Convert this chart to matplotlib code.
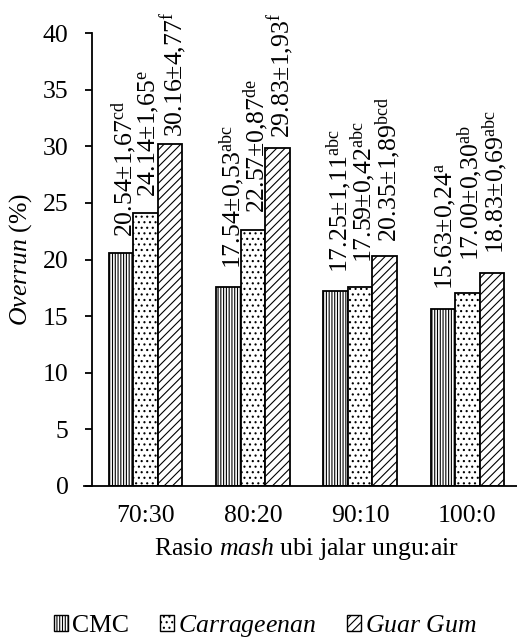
import matplotlib
matplotlib.use("Agg")
import matplotlib.pyplot as plt
import numpy as np
from matplotlib.patches import Patch

plt.rcParams['font.family'] = ['Liberation Serif', 'DejaVu Serif']
plt.rcParams['mathtext.fontset'] = 'custom'
plt.rcParams['mathtext.rm'] = 'Liberation Serif'
plt.rcParams['mathtext.it'] = 'Liberation Serif:italic'
plt.rcParams['hatch.linewidth'] = 0.8

categories = ["70:30", "80:20", "90:10", "100:0"]
series = ["CMC", "Carrageenan", "Guar Gum"]
cmc = [20.54, 17.54, 17.25, 15.63]
carrageenan = [24.14, 22.57, 17.59, 17.00]
guar = [30.16, 29.83, 20.35, 18.83]
cmc_sd = ["1,67", "0,53", "1,11", "0,24"]
carr_sd = ["1,65", "0,87", "0,42", "0,30"]
guar_sd = ["4,77", "1,93", "1,89", "0,69"]
cmc_sig = ["cd", "abc", "abc", "a"]
carr_sig = ["e", "de", "abc", "ab"]
guar_sig = ["f", "f", "bcd", "abc"]

values = [cmc, carrageenan, guar]
sds = [cmc_sd, carr_sd, guar_sd]
sigs = [cmc_sig, carr_sig, guar_sig]
hatches = ['||||||', '...', '////']
legend_labels = ["CMC", r"$\mathit{Carrageenan}$", r"$\mathit{Guar\ Gum}$"]
label_pad = [[16, 18, 18, 19], [16, 17, 24, 32], [7, 10, 14, 19]]

fig = plt.figure(figsize=(5.17, 6.39), dpi=100)
ax = fig.add_axes([92/517, (639-486)/639, (521-92)/517, (486-33)/639])

x = np.arange(len(categories))
w = 0.228
for i in range(3):
    pos = x + (i - 1) * w
    ax.bar(pos, values[i], width=w, color='white', edgecolor='black',
           linewidth=1.3, hatch=hatches[i], zorder=2)
    for j in range(len(categories)):
        txt = f"{values[i][j]:.2f}±{sds[i][j]}" + r"$^{\mathrm{" + sigs[i][j] + "}}$"
        ax.annotate(txt, (pos[j], values[i][j]), xytext=(0, label_pad[i][j] * 0.72),
                    textcoords='offset points', rotation=90, ha='left', va='center_baseline',
                    fontsize=18.5, rotation_mode='anchor')

ax.set_xlim(-0.5, 3.5)
ax.set_ylim(0, 40)
ax.set_yticks(range(0, 41, 5))
ax.set_xticks(x)
ax.set_xticklabels(categories)
ax.tick_params(axis='y', labelsize=18.5, length=5, width=1.3, direction='out', pad=12)
ax.tick_params(axis='x', labelsize=18.5, length=0, pad=14)
for s in ['top', 'right']:
    ax.spines[s].set_visible(False)
ax.spines['left'].set_linewidth(1.3)
ax.spines['bottom'].set_linewidth(1.3)
ax.spines['bottom'].set_bounds(-0.57, 3.5)
ax.spines['bottom'].set_clip_on(False)
ax.set_ylabel(r"$\mathit{Overrun}$ (%)", fontsize=18.5, labelpad=6)
ax.set_xlabel(r"Rasio $\mathit{mash}$ ubi jalar ungu:air", fontsize=18.5, labelpad=6)

handles = [Patch(facecolor='white', edgecolor='black', hatch=hatches[i], linewidth=1.0)
           for i in range(3)]
fig.legend(handles, legend_labels, loc='center', bbox_to_anchor=(265/517, 1 - 626/639),
           ncol=3, frameon=False, fontsize=18.5, handlelength=0.55, handleheight=0.55,
           handletextpad=0.15, columnspacing=1.2)

fig.savefig("out.png", dpi=100)
